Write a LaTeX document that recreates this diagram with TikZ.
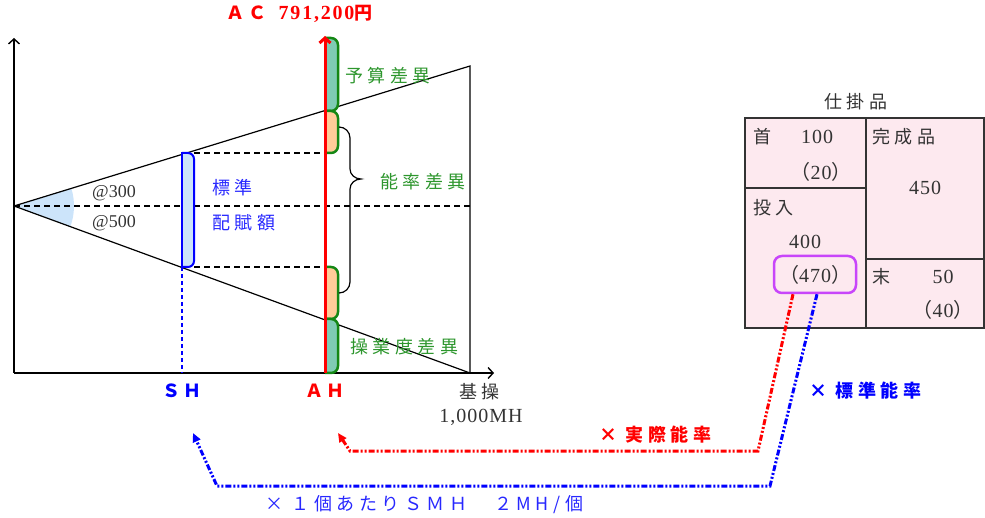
\documentclass[tikz,border=0pt]{standalone}
\usepackage{fontspec}
\setmainfont{Liberation Serif}
\newfontfamily\cj{Noto Sans CJK JP}[LetterSpace=25]
\newfontfamily\cjn{Noto Sans CJK JP}
\newfontfamily\numsp{Liberation Serif Bold}[LetterSpace=9]
\newfontfamily\numf{Liberation Serif}[LetterSpace=5]
\usetikzlibrary{arrows.meta}
\definecolor{gr}{RGB}{20,135,20}
\definecolor{grt}{RGB}{45,150,45}
\definecolor{tealf}{RGB}{127,203,180}
\definecolor{orgf}{RGB}{255,204,153}
\definecolor{lbf}{RGB}{204,228,250}
\definecolor{pkf}{RGB}{253,233,239}
\definecolor{pu}{RGB}{200,70,250}
\definecolor{dg}{RGB}{51,51,51}
\definecolor{bl}{RGB}{0,0,255}
\definecolor{tbl}{RGB}{40,40,255}
\definecolor{rd}{RGB}{255,0,0}
\newcommand\pp[1]{{\cjn （}#1{\cjn ）}}
\begin{document}
\begin{tikzpicture}[x=1pt,y=-1pt,
  axis/.style={line width=1.4, -{Straight Barb[length=5pt,width=11pt]}},
  tri/.style={line width=1.2},
  dsh/.style={line width=1.6, dash pattern=on 6pt off 4pt},
  gline/.style={draw=gr, line width=2.5, rounded corners=7},
  jp/.style={font=\cj\fontsize{18}{20}\selectfont, inner sep=0},
  jpb/.style={font=\cj\bfseries\fontsize{18}{20}\selectfont, inner sep=0},
  num/.style={font=\numf\fontsize{20}{22}\selectfont, text=dg, inner sep=0},
  rate/.style={font=\fontsize{18}{20}\selectfont, text=dg, inner sep=0},
  rconn/.style={rd, line width=3, dash pattern=on 6pt off 2pt on 2pt off 2pt on 2pt off 2pt, -{Triangle[length=9pt,width=8pt]}},
  bconn/.style={bl, line width=3, dash pattern=on 6pt off 2pt on 2pt off 2pt on 2pt off 2pt, -{Triangle[length=9pt,width=8pt]}},
  tline/.style={draw=dg, line width=2}
]
\useasboundingbox (0,0) rectangle (985,518);

% coordinates
\coordinate (O) at (14,373);
\coordinate (Ytop) at (14,38);
\coordinate (Xend) at (494,373);
\coordinate (V) at (14,206);
\coordinate (UT) at (470,66);
\coordinate (LB) at (470,373);
\coordinate (VR) at (470,206);

% wedge
\fill[lbf] (V) -- ++(-17.07:60) arc[start angle=-17.07, end angle=20.11, radius=60] -- cycle;

% axes
\draw[axis] (O) -- (Ytop);
\draw[axis] (O) -- (Xend);

% triangle
\draw[tri] (V) -- (UT) -- (LB);
\draw[tri] (V) -- (LB);
\draw[dsh] (V) -- (VR);

% SH
\coordinate (SHt) at (182,153);
\coordinate (SHb) at (182,267);
\coordinate (SHx) at (182,373);
\draw[bl, line width=1.6, dash pattern=on 4pt off 3pt] (SHb) -- (SHx);
\draw[dsh] (194,153) -- (325,153);
\draw[dsh] (194,267) -- (325,267);
\filldraw[fill=lbf, draw=bl, line width=2, rounded corners=6] (182,153) -- (194,153) -- (194,267) -- (182,267);
\draw[bl, line width=2] (182,152) -- (182,268);

% green brackets
\filldraw[gline, fill=tealf] (325,38) -- (338,38) -- (338,111) -- (325,111);
\filldraw[gline, fill=orgf] (325,111) -- (338,111) -- (338,153) -- (325,153);
\filldraw[gline, fill=orgf] (325,267) -- (338,267) -- (338,319) -- (325,319);
\filldraw[gline, fill=tealf] (325,319) -- (338,319) -- (338,373) -- (325,373);

% AH red line
\coordinate (AHb) at (325,373);
\coordinate (AHt) at (325,36);
\draw[rd, line width=3, -{Straight Barb[length=5pt,width=11pt]}] (AHb) -- (AHt);

% brace
\draw[line width=1.2] (339,127) to[out=0,in=90] (350,138) -- (350,169) to[out=-90,in=180] (361,179) to[out=180,in=90] (350,189) -- (350,282) to[out=-90,in=0] (339,293);

% labels in graph
\node[jp, text=grt, anchor=west] (yosan) at (345,76) {予算差異};
\node[jp, text=grt, anchor=west] (noritsu) at (380,182) {能率差異};
\node[jp, text=grt, anchor=west] (sogyo) at (350,347) {操業度差異};
\node[jp, text=tbl, anchor=west] (hyo) at (212,188) {標準};
\node[jp, text=tbl, anchor=west] (haifu) at (212,223) {配賦額};
\node[rate, anchor=west] (r300) at (92,193) {@300};
\node[rate, anchor=west] (r500) at (92,223) {@500};
\node[text=rd, inner sep=0, anchor=west] (ac) at (226,14) {\fontsize{18}{20}\selectfont{\cj\bfseries ＡＣ}\hspace{12pt}{\fontsize{20}{22}\numsp 791,200}{\cjn\bfseries 円}};
\node[font=\cjn\bfseries\fontsize{18}{20}\selectfont, text=bl, inner sep=0] (sh) at (182,391) {Ｓ\,Ｈ};
\node[font=\cjn\bfseries\fontsize{18}{20}\selectfont, text=rd, inner sep=0] (ah) at (325,391) {Ａ\,Ｈ};
\node[font=\cj\fontsize{18}{20}\selectfont, text=dg, inner sep=0, anchor=west] (kiso) at (459,392) {基操};
\node[num] (mh) at (481,417) {1,000MH};

% table
\node[font=\cj\fontsize{18}{20}\selectfont, text=dg, inner sep=0, anchor=west] (title) at (824,102) {仕掛品};
\filldraw[fill=pkf, draw=dg, line width=2.5] (745,118) rectangle (984,328);
\draw[tline] (866,118) -- (866,328);
\draw[tline] (745,188) -- (866,188);
\draw[tline] (866,259) -- (984,259);
\node[jp, text=dg, anchor=west] (kubi) at (753,137) {首};
\node[num, anchor=west] (n100) at (801,137) {100};
\node[num] (n20) at (821,172) {\pp{20}};
\node[jp, text=dg, anchor=west] (kansei) at (872,137) {完成品};
\node[num] (n450) at (925,188) {450};
\node[jp, text=dg, anchor=west] (tonyu) at (753,208) {投入};
\node[num] (n400) at (805,242) {400};
\node[num, draw=pu, line width=2.5, rounded corners=8, minimum width=82, minimum height=37] (p470) at (815,274.5) {\pp{470}};
\node[jp, text=dg, anchor=west] (sue) at (872,277) {末};
\node[num] (n50) at (943,277) {50};
\node[num] (n40) at (943,310) {\pp{40}};

% connectors
\coordinate (rtip) at (338,433);
\coordinate (btip) at (193,433);
\draw[rconn] ([xshift=-22pt]p470.south) -- (758,451) -- (350,451) -- (rtip);
\draw[bconn] ([xshift=2pt]p470.south) -- (770,486) -- (217,486) -- (btip);

\node[jpb, text=rd, anchor=west] (jissai) at (599,435) {× 実際能率};
\node[jpb, text=bl, anchor=west] (hyojun) at (809,391) {× 標準能率};
\node[jp, text=tbl, anchor=west] (smh) at (265,505) {× １個あたりＳＭＨ　２MH/個};
\end{tikzpicture}
\end{document}
